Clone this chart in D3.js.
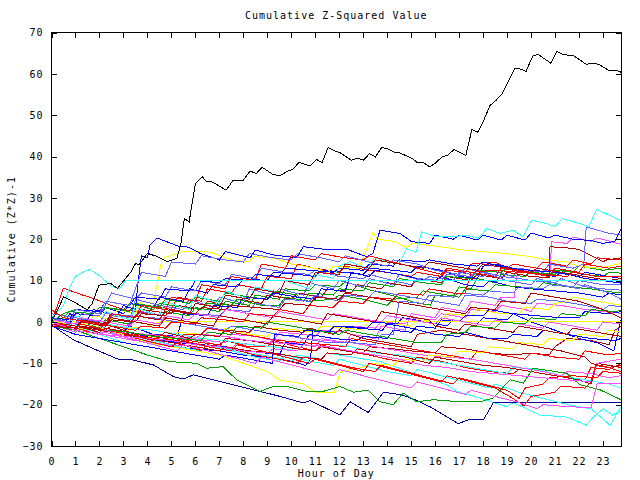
<!DOCTYPE html>
<html><head><meta charset="utf-8">
<script src="https://cdn.jsdelivr.net/npm/d3@7"></script>
<style>
html,body{margin:0;padding:0;background:#fff;}
text{font-family:"DejaVu Sans Mono",monospace;font-size:10px;letter-spacing:1px;fill:#000;}
</style></head><body>
<svg id="c" width="640" height="480"></svg>
<script>
const titleText = "Cumulative Z-Squared Value";
const xLabelText = "Hour of Day";
const yLabelText = "Cumulative (Z*Z)-1";
const xTicks = d3.range(0, 24);
const yTicks = [-30,-20,-10,0,10,20,30,40,50,60,70];

// series: [hour, value]
const black = [[0,0],[0.21,2.4],[0.51,6.1],[0.93,4.9],[1.49,2.9],[1.7,4.5],[1.98,8.9],[2.47,9.3],[2.75,8.1],[3.31,12.1],[3.51,14.2],[3.65,13.8],[4.0,16.6],[4.42,15.8],[4.84,14.6],[5.23,15.4],[5.4,19.0],[5.54,25.0],[5.74,24.2],[6.0,33.5],[6.29,35.1],[6.44,34.1],[6.72,33.8],[7.28,31.9],[7.56,34.1],[7.98,34.1],[8.28,36.5],[8.54,35.9],[8.79,37.4],[9.23,35.7],[9.51,35.3],[9.82,36.4],[10.07,36.9],[10.32,38.6],[10.77,37.7],[11.05,39.3],[11.28,38.5],[11.54,42.2],[11.79,41.4],[12.04,40.9],[12.51,39.1],[12.76,39.6],[13.01,39.1],[13.26,40.7],[13.51,39.9],[13.77,42.2],[14.02,41.9],[14.27,41.1],[14.52,40.9],[15.02,39.6],[15.27,38.5],[15.52,38.5],[15.77,37.5],[16.03,38.5],[16.28,39.9],[16.53,40.3],[16.78,41.7],[17.28,40.3],[17.53,46.5],[17.78,45.9],[18.03,48.8],[18.28,52.3],[18.54,53.6],[18.82,55.4],[19.07,58.5],[19.32,61.2],[19.54,61.2],[19.79,60.6],[20.07,64.3],[20.29,64.7],[20.82,62.6],[21.08,65.4],[21.33,64.7],[21.8,64.3],[22.3,62.3],[22.55,62.6],[22.83,62.3],[23.22,60.9],[23.56,60.9],[23.75,60.4]];
const cyanFlat = [[0,1],[0.25,2.5],[0.5,4],[0.7,7.5],[0.98,10.9],[1.3,12],[1.6,12.7],[2.0,11.2],[2.5,8.6],[2.85,8.1],[3.1,10.1],[23.75,10.1]];
const yellowFlat = [[0,0.5],[0.5,-0.5],[0.75,0.5],[1.5,-1.5],[1.75,-0.5],[2.5,-2.5],[3,-3],[3.25,-1.5],[4,-1],[4.5,0],[23.75,0]];
const navyBottom = [[0,-0.5],[0.08,-1.1],[0.91,-4.3],[1.88,-6.8],[2.86,-9.2],[3.41,-9.2],[4.25,-10.4],[5.08,-13.2],[5.5,-13.8],[5.91,-12.8],[7.03,-14.4],[8.14,-16.0],[9.53,-18.0],[10.5,-19.6],[10.78,-19.0],[12.03,-22.5],[12.45,-19.3],[13.21,-21.9],[13.84,-17.0],[14.6,-17.6],[15.16,-18.8],[15.78,-20.5],[16.96,-24.6],[17.45,-23.5],[18.01,-23.7],[18.42,-19.6],[23.75,-19.6]];
const cyanTop = [[0,0.5],[0.75,-1],[1,1.5],[2,-0.5],[2.25,2.5],[3.25,0.5],[3.5,3.5],[4.5,1.5],[4.75,5],[5.75,3],[6,6.5],[7,4.5],[7.25,7.5],[8.25,5.5],[8.5,8.5],[9.5,7],[9.75,10],[10.75,8],[11,11.5],[11.75,10.5],[12,13.5],[12.45,14.6],[13.2,12.8],[13.45,15.5],[14.5,14],[14.81,17.8],[15.2,16.8],[15.44,21.8],[16.06,20.6],[16.76,20.6],[17.31,21],[17.8,20.2],[18.15,22.6],[18.7,21.4],[19.26,22.2],[19.67,20.6],[20.02,24.6],[20.65,23.8],[21,23],[21.3,25],[22.04,23.8],[22.4,23],[22.74,27.2],[23.15,26.1],[23.75,24.5]];
const blue20 = [[0,0],[0.5,-1],[0.75,2],[1.5,0.5],[1.75,3],[2.75,1.5],[3,4],[3.5,3],[3.6,9],[3.75,16],[4,15.5],[4.1,18.5],[4.4,20.3],[5.3,18.3],[5.7,18.1],[6.2,16.6],[7,15],[7.25,17],[8.28,15.5],[8.5,17.4],[9.25,16.2],[10.22,15.5],[10.5,18.2],[11.5,17.5],[12.31,17.6],[13.14,15.8],[13.4,16.5],[13.7,22.2],[14.53,21.4],[15.02,19.4],[15.78,19],[16,21],[16.75,20],[17,21],[17.75,19.8],[18,21],[18.75,19.8],[19,21],[19.75,19.8],[20,21.5],[20.75,20.3],[21,21],[21.75,20],[22.5,19.7],[23,19],[23.5,19.5],[23.75,22.4]];
const lightblueHi = [[0,1],[1,-1],[1.25,1],[2.25,-1.5],[3,-2.5],[3.25,0],[3.5,5.5],[4.5,4],[5.5,3],[5.75,5.5],[6.75,3.5],[7,6],[8,4.5],[8.25,8],[9.25,6.5],[9.5,8],[10.5,6.5],[10.75,9.5],[11.75,8],[12,10],[13,8.5],[13.25,10.5],[14.25,9],[14.5,11.5],[15.5,10],[15.75,11],[16.75,10],[17,12],[18,11],[18.25,12.5],[19.25,11],[19.5,13],[20.5,12],[20.75,14],[21.75,13],[22.2,14],[22.3,23],[22.6,22.5],[23.2,21.5],[23.75,21]];
const pinkHi = [[0,-0.5],[1,-2.5],[1.25,-1.5],[2.5,-3.5],[3.5,-4.5],[3.75,-3.5],[5,-5.5],[6,-6],[6.25,-4.5],[7.5,-6.5],[7.75,-5],[9,-6],[9.25,-4],[10.5,-5.5],[11,-6],[11.25,-4],[12.25,-5],[12.5,-3],[13.5,-4],[13.75,-1],[14.75,-2],[15,2],[16,1],[16.25,3.5],[17.25,2.5],[17.5,5],[18.5,4],[18.75,6],[19.3,6],[19.45,13],[20,12],[20.8,12.5],[20.85,19.4],[21.5,19],[21.75,20.5],[22.5,19.5],[22.75,20.3],[23.75,18.8]];
const darkredHi = [[0,0],[1,-1],[1.25,1],[2.25,0],[2.5,2],[3.5,1],[3.75,3],[5,2],[5.25,4],[6.25,3],[6.5,5],[7.5,4],[7.75,5.5],[8.75,4.5],[9,6.5],[10,5.5],[10.25,7],[11.25,6],[11.5,8],[12.5,7],[12.75,9],[13.75,8],[14,9.5],[15,8.5],[15.25,10.5],[16.25,9.5],[16.5,11],[17.5,10],[17.75,11.5],[18.75,10.5],[19,12],[20,11],[20.75,10.7],[20.79,18.2],[21.76,17.8],[22.04,17.4],[23.01,14.6],[23.15,15],[23.75,15.5]];
const red15 = [[0,0],[0.25,4],[0.5,8.2],[1.3,6.5],[1.7,5.8],[2.5,4],[3,3],[4,2],[4.25,4],[5,3],[5.25,6],[6.25,5],[6.5,8],[7.5,7],[7.75,9],[8.75,8],[9,11],[10,10.5],[10.25,14],[11,13],[12,12],[12.25,13.5],[13.25,12.5],[14,12],[15,11],[15.25,12],[16.25,11],[16.5,12.5],[17.25,12],[17.5,14],[18.5,14.5],[19,13],[19.25,14],[20.25,13],[20.5,14.5],[21.5,13.5],[21.75,15],[22.5,14],[22.75,15.5],[23.75,15]];
const yellow14 = [[0,0],[0.5,-1],[0.75,0.5],[1.5,-0.5],[1.75,1.5],[2.5,0.5],[2.75,3],[3.5,2],[3.75,5],[4.25,4.5],[4.5,12],[4.6,15],[4.8,15.8],[5.5,17],[6.4,17],[6.7,16.7],[7.5,15],[8.2,14.5],[8.45,15.8],[9.3,15.4],[10,14],[11,13],[11.5,12],[11.75,13.5],[12.8,13],[13.1,17],[13.4,21.5],[13.6,20],[14.3,19.5],[14.8,18],[15.05,19],[16.2,18.2],[17,17.5],[18,17],[19,16.5],[20,15.8],[20.7,15],[21.5,14.5],[22,13.4],[22.9,13],[23.75,14.2]];
const greenA = [[0,1],[1,-1],[1.25,0],[2,-1.5],[2.25,0.5],[3.25,-0.5],[3.5,1.5],[4.5,0.5],[4.75,2.5],[5.75,1.5],[6,3.5],[7,2.5],[7.25,5],[8.25,4],[8.5,6.5],[9.5,5.5],[9.75,8],[10.75,7.5],[11,9],[12,8.5],[12.25,9.7],[13.3,7.7],[14.4,6.1],[15.2,4.6],[15.8,4.1],[16,6.5],[16.75,6],[17,8.5],[17.5,8],[17.75,10.5],[18.5,9.5],[18.75,11.5],[19.75,11],[20,12.5],[20.75,11],[21,12.5],[21.75,12],[22,13.5],[23,12.5],[23.75,13]];
const greenB = [[0,0],[0.5,2],[1,3],[2,2],[2.25,3.5],[3.25,2.5],[3.5,4.5],[4.5,3.5],[4.75,5.5],[5.75,4.5],[6,6],[7,5],[7.25,7],[8.25,6],[9,5.5],[9.25,7.5],[10.25,6.5],[10.5,5],[10.75,7],[11.75,6.5],[12,8],[13,7.5],[13.25,9.5],[14.25,8.5],[14.5,10.5],[15.5,9.5],[16.25,9],[16.5,11],[17.5,10.5],[17.75,12.5],[18.75,12],[19,13],[20,12],[21,11.5],[21.25,12.5],[22.25,11.5],[23,11],[23.25,12],[23.75,11.8]];
const blue9 = [[0,0],[0.75,-0.5],[1,2],[2,1.5],[2.25,3.5],[3,2],[3.25,4.5],[4.25,3.5],[4.5,6],[5.5,5],[5.75,8],[6.5,7],[6.75,9],[7.75,8.5],[8,10.5],[9,10],[9.25,12],[10.25,11.5],[11,11],[11.25,12.5],[12.25,12],[13,11.5],[13.25,13],[14.25,12.5],[15,12],[15.25,13.5],[16.25,12.5],[17,11],[17.75,10.5],[18,13.5],[18.5,14],[19.25,13],[20,12],[21,11],[21.25,12],[22.25,10.5],[23,10],[23.75,9.4]];
const lightblue8 = [[0,0.5],[1,-0.5],[1.25,2],[2,1.5],[2.25,4],[2.5,7],[3.5,5.5],[3.75,7],[4.75,6],[5,8.5],[6,7.5],[6.25,10],[7.25,9],[7.5,11.5],[8.5,10.5],[8.75,13],[9.75,12],[10.75,11.5],[11,12.5],[12,11],[13,10.5],[13.25,11.5],[14.25,10],[15,9],[15.25,10.5],[16.25,10],[16.5,11.5],[17.5,11],[17.75,12.5],[18.75,11],[19.5,10.5],[20,10],[21,9.5],[21.25,10.5],[22.25,8.5],[23,8],[23.75,7.7]];
const lightblueUp = [[0,1],[0.75,0],[1,3],[2,2],[2.25,5],[3.25,4],[3.5,8],[3.75,12],[4.75,11],[5,14.5],[6,14],[6.25,16],[7.25,15],[8,14.5],[8.25,16.5],[9.25,15.5],[10,15],[10.25,16.5],[11.25,15.5],[12,14.5],[12.25,16],[13.25,14.5],[14,13.5],[14.25,15],[15.25,14],[16,12.5],[17,11.5],[17.25,13],[18.25,11.5],[19,10],[20,9],[20.25,10.5],[21.25,9],[22,8],[22.25,9],[23.25,7],[23.75,5.5]];
const redUp = [[0,-0.5],[1,-2],[1.25,0],[2.25,-1],[2.5,2],[3.5,1],[3.75,4],[4.75,3],[5,6],[6,5],[6.25,9],[7.25,8],[7.5,11],[8.5,10],[8.75,14],[9.75,13],[10,16],[11,15],[11.25,16.5],[12.25,15.5],[13,15],[13.25,16],[14.25,14.5],[15.25,13],[16.25,11.5],[16.5,13],[17.5,12],[18.5,11],[18.75,13],[19.75,12],[20.75,11],[21,13],[22,12],[22.25,14],[23.25,13],[23.75,13.5]];
const darkredUp = [[0,0],[1,-1],[2,-2],[2.25,0],[3.25,-1],[3.5,1.5],[4.5,0.5],[4.75,3],[5.75,2],[6,4.5],[7,3.5],[7.25,6.5],[8.25,5.5],[8.5,8],[9.5,7],[9.75,10],[10.75,9],[11,12],[12,11.5],[12.25,14],[13.25,13],[13.5,15],[14.5,14],[15.5,13],[15.75,14.5],[16.75,13.5],[17.75,12.5],[18,14],[19,13],[20,12],[20.25,13],[21.25,12],[22.25,11],[23.25,10],[23.75,10.5]];
const blue6 = [[0,-1],[1,-1.5],[1.25,-0.5],[2.25,-2],[3,-2.5],[3.25,-1],[4.25,-3],[5.25,-3.5],[5.5,2],[6.5,1.5],[6.75,4],[7.75,3.5],[8,6],[9,5.5],[9.25,7],[10.25,6],[11,5.5],[11.25,8],[12.25,7.5],[12.5,12],[13.25,11],[13.5,12.5],[14.5,11.5],[15.25,10.5],[16,10],[16.25,11],[17.25,9],[18,8.5],[18.25,10],[19.25,8.5],[20,8],[21,7.5],[22,7],[23,6],[23.25,7],[23.75,6.5]];
const lightblue4 = [[0,0],[1,-1.5],[1.25,0],[2.25,-0.5],[2.5,1.5],[3.5,1],[3.75,2.5],[4.75,1.5],[5.75,0.5],[6,2],[7,1.5],[7.25,3],[8.25,2.5],[8.5,4.5],[9.5,3.5],[9.75,5.5],[10.75,5],[11,6.5],[12,5],[12.25,6.5],[13.25,6],[13.5,7.5],[14.5,6.5],[15.5,5.5],[16.5,4.5],[17,4],[17.25,6.5],[18.25,6],[19,5],[20,4.5],[20.25,5.5],[21.25,5],[22.25,4],[23,3],[23.25,4],[23.75,3.7]];
const pink2 = [[0,0],[1,-2],[2,-3],[2.25,-2.5],[3.25,-4],[4.25,-5],[5.25,-6],[5.5,-4],[6.5,-4.5],[7.25,-5],[7.5,-3],[8.5,-3.5],[9.25,-4.5],[9.5,-2.5],[10.5,-3],[11,-3.5],[11.25,-2],[12.25,-2.5],[12.5,-1],[13.5,-1.5],[13.75,0],[14.75,-0.5],[15,1],[16,0.5],[16.25,2],[17.25,1],[17.5,3],[18.5,2.5],[18.75,4],[19.75,3],[20,2.5],[20.25,4.5],[21.25,4],[22.25,3],[23,2.5],[23.75,2.1]];
const pinkZero = [[0,0.5],[1,-0.5],[1.25,1],[2.25,0],[3.25,-1],[3.5,0.5],[4.5,-0.5],[4.75,1.5],[5.75,0.5],[6,2],[7,1],[7.25,3],[8.25,2],[9.25,1],[9.5,2.5],[10.5,1.5],[11.5,0.5],[11.75,2],[12.75,1],[13.75,0],[14,1.5],[15,0.5],[16,-0.5],[16.25,1],[17.25,0],[18.25,-1],[18.5,0.5],[19.5,-0.5],[20.5,-1.5],[20.75,0],[21.75,-1],[22.75,-2],[23,0],[23.75,-0.5]];
const yellow4 = [[0,0],[1,-1.5],[2,-2],[3,-3],[4,-3.5],[5,-4],[5.25,-2.5],[6.25,-3],[7,-3.5],[7.25,-1.5],[8.25,-3],[9,-3.5],[9.25,-1.5],[10.25,-2],[11,-2.5],[11.25,-1],[12.25,-1.5],[13,-2],[13.25,0.5],[14.25,-0.5],[15,-1],[15.25,0.5],[16.25,0],[16.5,2],[17.5,1.5],[17.75,3],[18.75,2],[19.5,2],[19.75,3.5],[20.75,3],[21,4.5],[21.5,5],[21.75,6],[22.75,5],[23.75,4]];
const darkredM1 = [[0,0],[1,-1],[2,-2.5],[2.25,-1.5],[3.25,-2.5],[4.25,-3.5],[5.25,-4.5],[6.25,-5.5],[7,-6],[7.25,-4],[8.25,-4.5],[9.25,-5.5],[10.25,-6.5],[11,-7],[11.25,-6],[12.25,-7],[13,-7.5],[13.25,-6],[14.25,-6.5],[15,-7],[16,-7.5],[16.25,-6],[17.25,-6.5],[18.25,-7.5],[19.25,-8],[20,-7.5],[20.75,-8],[21,-6],[21.5,-4],[22.5,-4.5],[23.25,-5.5],[23.5,-2],[23.75,-1.1]];
const darkredZero = [[0,-0.5],[1,-1.5],[1.25,0.5],[2.25,-0.5],[2.5,1],[3.5,0],[4.5,-1],[4.75,1],[5.75,0],[6.75,-1],[7,1.5],[8,0.5],[9,-0.5],[9.25,1.5],[10.25,0.5],[11.25,-0.5],[11.5,2],[12.5,1],[13.5,0],[13.75,2.5],[14.75,1.5],[15.75,0.5],[16,-1],[17,-2],[17.25,-0.5],[18.25,-1.5],[19.25,-2.5],[19.5,-1],[20.5,-2],[21.5,-3],[21.75,-1.5],[22.75,-2.5],[23.75,-3.5]];
const blueDesc = [[0,0],[1,-1.5],[2,-3],[3,-3.5],[3.25,-2.5],[4.25,-4],[5.25,-5],[6.25,-5.5],[7.25,-6],[8.25,-7],[9.5,-8],[9.75,-5],[10.5,-5.5],[10.75,-3],[11.75,-4],[12.75,-4.5],[13,-3.5],[14,-4],[14.25,-2],[15,-2.5],[15.25,-1],[16,-1.5],[16.25,0.5],[17,0],[17.25,1.5],[18,1.5],[18.25,3],[19.25,2],[20,0],[21,-2],[22,-4],[22.75,-5],[23.45,-7],[23.75,0.5]];
const green7 = [[0,0],[0.5,1],[0.75,2.5],[1.75,2],[2,3.5],[3,3],[3.25,4.5],[4.25,3],[4.5,4.5],[5.5,3.5],[6.25,3],[6.5,4.5],[7.5,4],[7.75,5.5],[8.75,4],[9.5,4],[9.75,6],[10.75,5],[11.75,5.5],[12,6.5],[13,5.5],[14,4],[14.25,5.5],[15.25,6],[15.5,7.5],[16.5,6.5],[17,6],[17.25,8],[18.25,7.5],[18.5,9],[19.5,8.5],[20.25,8],[20.5,9.5],[21.5,8.5],[22.5,8],[23,7.5],[23.75,7]];
const red10 = [[0,0],[1,-1.5],[2,-2],[3,-3],[4,-4],[4.25,-3],[5.25,-4],[6.25,-5],[7,-5.5],[7.25,-4.5],[8.25,-6],[9,-6],[9.25,-4.5],[10.25,-6],[11,-7],[11.25,-5.5],[12.25,-7],[13.25,-8],[14,-9],[15,-10],[15.25,-8.5],[16.25,-9.5],[17.25,-11],[18.25,-12],[19.25,-12.5],[19.5,-11.5],[20.5,-12.5],[21.5,-13.5],[22.25,-14],[22.5,-11],[23.25,-11.5],[23.75,-10]];
const red10b = [[0,0],[1,-2],[2,-3],[2.25,-2],[3.25,-3],[4.25,-4],[5.25,-4.5],[5.5,-3],[6.25,-3],[6.5,-1.5],[7.5,-2.5],[8.5,-3.5],[9.5,-4.5],[10.5,-5],[11.5,-5.5],[12.25,-6],[12.5,-4],[13.5,-5],[14.5,-6],[15.5,-7],[16.5,-8],[17.5,-9],[17.75,-7],[18.75,-8],[19.75,-9],[20,-7.5],[21,-8.5],[22,-9],[22.25,-7],[23.25,-8],[23.75,-7.5]];
const red12 = [[0,0],[1,-1.5],[2,-3],[2.25,-2],[3.25,-3.5],[4.25,-5],[5,-6],[5.25,-5],[6.25,-7],[6.5,-5.5],[7.5,-6.5],[8.5,-8],[9.5,-9],[10.25,-10],[10.5,-8.5],[11.5,-9.5],[12.5,-11],[13.5,-12],[13.75,-10.5],[14.75,-12],[15.75,-13.5],[16.75,-15],[17,-13.5],[18,-15],[19,-16.5],[19.5,-18.5],[19.75,-16],[20.5,-15],[20.75,-13.5],[21.75,-13],[22.75,-13.5],[23,-12],[23.75,-12.4]];
const pink15 = [[0,0],[1,-2],[2,-3],[2.25,-2],[3.25,-4],[4.25,-5.5],[5.25,-7],[5.5,-5.5],[6.5,-7],[7.5,-8.5],[8.5,-10],[8.75,-8.5],[9.75,-10],[10.75,-11.5],[11.75,-13],[12,-11.5],[13,-13],[14,-14.5],[15,-16],[15.25,-14.5],[16.25,-16],[17.25,-17.5],[17.5,-16.5],[18.5,-18],[19.5,-19.5],[20.25,-21],[20.5,-20],[21.5,-20.5],[22.5,-20.7],[22.75,-15],[23.75,-14.8]];
const darkred11 = [[0,0],[1,-1],[2,-2],[3,-3],[4,-4],[5,-5],[6,-6],[7,-7],[7.25,-6],[8.25,-7],[9.25,-7.5],[10.25,-8.5],[11.25,-9],[11.5,-7.5],[12.5,-8],[12.75,-6.5],[13.75,-7.5],[14.75,-8.5],[15.75,-10],[16,-8.5],[17,-9.5],[18,-10.5],[19,-11],[20,-12],[21,-13],[22,-14],[22.5,-15],[22.75,-10],[23.75,-11]];
const red17 = [[0,0],[1,-1.5],[1.25,-0.5],[2.25,-2],[3.25,-3],[4.25,-4.5],[4.5,-3],[5.5,-4.5],[6.5,-6],[7.5,-7],[7.75,-5.5],[8.75,-7],[9.75,-8.5],[10.75,-10],[11,-9],[12,-10.5],[13,-12],[13.25,-10],[14.25,-11.5],[15.25,-13],[16.25,-14.5],[16.5,-13],[17.5,-14.5],[18.5,-16],[19.25,-18.5],[19.7,-20.3],[20,-18],[21,-17],[21.25,-15.5],[22.25,-16],[22.5,-14.5],[22.7,-10.5],[23.2,-11],[23.75,-12]];
const pinkB = [[0,0],[1,-1],[2,-2],[3,-2.5],[4,-3],[5,-3.5],[6,-4],[6.25,-3],[7.25,-3.5],[8.25,-4.5],[9.25,-5],[10.25,-5.5],[10.5,-4],[11.5,-4.5],[12.5,-5],[13.5,-6],[14.5,-7],[15.5,-8],[16.5,-8.5],[17.5,-9],[18.5,-10],[19.5,-11],[20.5,-12],[21.25,-13],[21.5,-12],[22.5,-12.5],[23.25,-13.5],[23.75,-13]];
const pinkC = [[0,0],[1,-2],[2,-3],[3,-3.5],[4,-4],[5,-4.5],[6,-5.5],[7,-6],[8,-7],[9,-7.5],[9.25,-6.5],[10.25,-7],[10.5,-5.5],[11.5,-6],[12.5,-7],[13.5,-8],[14.5,-9],[15.5,-10.5],[16.5,-11],[17.5,-12],[18.5,-12.5],[19.5,-13],[20.5,-13.5],[21.5,-14],[22.5,-14.5],[22.75,-10],[23.75,-9]];
const cyanC = [[0,0],[1,-1],[1.25,0],[2.25,-0.5],[3.25,-1.5],[4.25,-2],[5.25,-3],[6.25,-4],[7.25,-4.5],[8.25,-5.5],[9.25,-6],[10.25,-7],[10.5,-5],[11.5,-5.5],[12.5,-6],[13.5,-7.5],[14.5,-8],[15.5,-9],[16.5,-10],[17.5,-11],[18.5,-12],[19,-12.5],[19.25,-11],[20.25,-11.5],[21.25,-13],[22.25,-14],[23.25,-15],[23.75,-16]];
const yellowLow = [[0,0],[1,-1],[2,-2],[3,-3],[4,-5],[5,-6],[6,-7],[7,-8],[8,-10],[9,-12],[9.5,-14],[10.5,-15],[11,-17],[11.8,-17],[12.05,-12],[13,-11],[13.25,-10],[14.25,-10.5],[14.5,-9],[15.5,-9.5],[15.75,-8],[16.75,-8.5],[17,-7],[18,-7.5],[18.25,-6],[19.25,-6.5],[19.5,-5],[20.5,-5.5],[20.75,-4],[21.75,-4.5],[22,-3],[23,-3.5],[23.25,-2],[23.75,-2.5]];
const blueV1 = [[0,0],[1,-1],[2,-2],[3,-3],[4,-5],[5,-6],[6,-6.5],[7,-7],[8,-8],[9,-8.5],[10,-9.5],[10.6,-10.5],[10.8,-9],[10.9,-2],[11.9,-2.5],[12.15,-1],[13.15,-1.5],[13.4,0],[14.4,-0.5],[14.65,1],[15.65,0],[16.5,-1],[16.75,0.5],[17.75,-0.5],[18,1],[19,0.5],[19.25,2],[20.25,1.5],[21.25,1],[22,1],[22.25,2.5],[23.25,2],[23.75,2.5]];
const greenLow = [[0,0],[0.5,-1],[1,-2],[2,-4],[3,-6],[4,-8],[4.94,-9.6],[6.05,-10],[6.47,-11.2],[7.16,-10.8],[7.72,-14],[8.69,-16.8],[9.25,-15.6],[9.81,-15.6],[10.64,-16.8],[11.33,-16.8],[12.03,-15.6],[12.6,-17],[13.2,-16.5],[13.7,-19.3],[14.25,-20],[14.67,-17.2],[15.23,-19.3],[15.92,-18.8],[17.04,-19.3],[17.87,-19.3],[18.42,-18.4],[19.12,-14],[19.67,-14.8],[20.09,-11.2],[21.48,-12.4],[22.04,-15.2],[22.87,-16.4],[23.75,-18.8]];
const cyan1 = [[0,0],[1,-1.5],[2,-2.5],[3,-3],[4,-4.5],[5,-6],[6,-7],[6.25,-5.5],[7.25,-6.5],[8.25,-7.5],[9.25,-8.5],[10,-9.5],[10.25,-8],[11.25,-9],[11.5,-7.5],[12.5,-8.5],[13.72,-9.6],[15.1,-12.4],[16.48,-15.2],[16.9,-16.8],[17.87,-18.4],[18.98,-20.5],[19.25,-19.5],[20.37,-22.5],[21.5,-23],[22.3,-25],[22.6,-23],[23.0,-21],[23.4,-22.5],[23.75,-21.5]];
const cyan2 = [[0,0],[1,-2],[2,-3],[3,-5],[4,-6],[4.25,-4.5],[5.25,-6],[6.25,-7],[6.5,-5.5],[7.5,-7],[8.5,-8.5],[9.5,-9.5],[9.75,-8],[10.75,-9.5],[11.75,-10.5],[12,-9],[13,-10.5],[14,-12],[15,-13],[15.25,-11.5],[16.25,-13],[17.25,-14.5],[18.25,-16],[18.5,-15],[19.5,-17],[20.5,-18.5],[21.5,-20],[22.5,-21],[22.8,-22.5],[23.3,-25],[23.75,-20.5]];
const darkredMid = [[0,0],[1,-2],[1.25,-1],[2.25,-2],[2.5,-1],[3.5,-3],[4.5,-3.5],[4.75,-2.5],[5.75,-4],[6,-3],[7,-3.5],[7.25,-2],[8.25,-2.5],[8.5,-1],[9.5,-2],[10.5,-2.5],[10.75,-1.5],[11.75,-3],[12,-2],[13,-4],[14,-5],[15,-6],[15.25,-3],[16.25,-2],[17.25,-3],[18.25,-4],[19.25,-5],[20.25,-6],[21.25,-7],[22.25,-8.5],[22.5,-10],[23.25,-11],[23.75,-10.5]];
const redMid = [[0,3],[0.5,1],[1.5,0],[2.5,-1],[3.5,-2],[3.75,-1],[4.75,-1.5],[5,0],[6,-0.5],[6.25,1],[7.25,0.5],[8,0],[8.25,2],[9.25,1.5],[9.5,3],[10.5,2],[10.75,4],[11.75,3.5],[12,5],[13,4.5],[13.25,6],[14.25,5.5],[14.5,7],[15.5,6.5],[15.75,8],[16.75,7],[17.25,7],[17.5,12],[18.5,12.5],[19.5,12],[20.5,11.5],[21.5,11],[21.75,12],[22.75,11],[23.75,11]];
const blueMid2 = [[0,1],[0.75,0.5],[1,3],[2,2.5],[2.25,5],[3.25,4],[3.5,6],[4.5,5.5],[4.75,8],[5.75,7.5],[6,10],[7,9.5],[7.25,10.5],[8.25,10],[8.5,11.5],[9.5,11],[9.75,13],[10.75,12.5],[11.75,12],[12,13],[13,12.5],[13.25,14],[14.25,13.5],[14.5,15],[15.5,14.5],[15.75,15],[16.75,14],[17.75,13.5],[18,14.5],[19,13],[20,12.5],[21,12],[22,11],[22.25,12],[23.25,11],[23.75,10.5]];
const greenMid = [[0,-1],[1,-2],[2,-3],[2.25,-2],[3.25,-2.5],[4.25,-3.5],[5.25,-4],[6.25,-4.5],[6.5,-2.5],[7.5,-3],[7.75,-1],[8.75,-1.5],[9,0],[10,-1],[11,-2],[12,-3],[12.25,-2],[13.25,-3],[14.25,-4],[15.25,-5],[16.25,-5],[16.5,-3],[17.25,-2.5],[17.5,-1],[18.5,-1.5],[18.75,0],[19.75,-0.5],[20,1],[21,0.5],[21.25,2],[22.25,1.5],[22.5,3],[23.5,2.5],[23.75,2.8]];
const lightblueMid = [[0,2],[1,1],[2,0],[2.25,2],[3.25,1.5],[4.25,1],[5.25,0],[6.25,-1],[7.25,-2],[7.5,-1],[8.5,-2],[9.5,-3],[10.5,-4],[11.5,-5],[12.5,-5],[13.5,-5.5],[13.75,-3],[14.25,-3],[14.5,5],[15.5,4.5],[15.75,6.5],[16.75,6],[17,7],[18,6.5],[18.25,7.5],[19.25,7],[19.5,8.5],[20.5,8],[20.75,9],[21.75,8.5],[22,10],[23,9],[23.75,9]];
const darkredMid2 = [[0,-1],[1,-1.5],[1.25,0],[2.25,-1],[2.5,0.5],[3.5,0],[3.75,2],[4.75,1.5],[5,3],[6,2],[6.25,3.5],[7.25,3],[7.5,4],[8.5,3.5],[9.5,3],[9.75,4.5],[10.75,4],[11,6],[12,5.5],[12.25,7],[13.25,6],[14.25,5],[15.25,4],[16.25,3],[17.25,2],[17.5,3.5],[18.5,3],[18.75,5],[19.75,4.5],[20,7],[21,6],[22,5],[23,3],[23.75,1]];
const blueV2 = [[0,-1],[1,-3],[2,-4],[3,-5],[4,-6],[5,-7],[6,-8],[7,-9],[7.25,-8],[8.25,-9],[9.2,-10],[9.3,-3],[10.3,-3.5],[10.55,-2],[11.55,-2.5],[11.8,-1],[12.8,-1.5],[13.8,-2],[14,-0.5],[15,-1.5],[16,-3],[17,-3.5],[17.25,-2.5],[18.25,-4],[19,-4],[19.25,-3],[20.25,-3.5],[20.5,-2],[21.5,-3],[22.5,-4],[23.5,-4.5],[23.75,-4]];

const C = {black:"#000000", red:"#ff0000", darkred:"#b40000", green:"#00a000", blue:"#0000ff",
  lightblue:"#6464ff", navy:"#000099", pink:"#ff50ff", cyan:"#33ffff", yellow:"#ffff00"};

const seriesList = [
  [red15,"red"],[greenA,"green"],[blue9,"blue"],[pinkHi,"pink"],[cyan1,"cyan"],[yellow14,"yellow"],
  [darkredHi,"darkred"],[lightblueHi,"lightblue"],[navyBottom,"navy"],
  [red10,"red"],[greenB,"green"],[blue6,"blue"],[pink2,"pink"],[cyanC,"cyan"],[yellow4,"yellow"],
  [darkredM1,"darkred"],[lightblue8,"lightblue"],[blueDesc,"blue"],
  [red10b,"red"],[green7,"green"],[blueV1,"blue"],[pinkB,"pink"],[cyan2,"cyan"],[yellowLow,"yellow"],
  [darkred11,"darkred"],[lightblue4,"lightblue"],[blue20,"blue"],
  [red12,"red"],[greenLow,"green"],[blueMid2,"blue"],[pinkC,"pink"],[cyanTop,"cyan"],[yellowFlat,"yellow"],
  [darkredMid,"darkred"],[lightblueMid,"lightblue"],[blueV2,"blue"],
  [redUp,"red"],[lightblueUp,"lightblue"],[darkredUp,"darkred"],[pinkZero,"pink"],[darkredZero,"darkred"],
  [red17,"red"],[greenMid,"green"],[pink15,"pink"],[redMid,"red"],[darkredMid2,"darkred"],
  [cyanFlat,"cyan"],[black,"black"]
];

const L = 51.5, R = 621, T = 32.5, B = 446;
const x = d3.scaleLinear().domain([0, 23.75]).range([L, R]);
const y = d3.scaleLinear().domain([-30, 70]).range([B, T]);
const svg = d3.select("#c");

svg.append("defs").append("clipPath").attr("id","clip")
  .append("rect").attr("x",L).attr("y",T).attr("width",R-L).attr("height",B-T);

const line = d3.line().x(d=>x(d[0])).y(d=>y(d[1]));
const g = svg.append("g").attr("clip-path","url(#clip)");
seriesList.forEach(([data,col])=>{
  g.append("path").attr("d", line(data)).attr("fill","none")
    .attr("stroke", C[col]).attr("stroke-width",1).attr("shape-rendering","crispEdges");
});

svg.append("rect").attr("x",L).attr("y",T).attr("width",R-L).attr("height",B-T)
  .attr("fill","none").attr("stroke","#000").attr("stroke-width",1).attr("shape-rendering","crispEdges");

const tk = 5;
const axB = d3.axisBottom(x).tickValues(xTicks).tickSize(-tk).tickPadding(tk+7).tickFormat(d3.format("d"));
const axT = d3.axisTop(x).tickValues(xTicks).tickSize(-tk).tickFormat("");
const axL = d3.axisLeft(y).tickValues(yTicks).tickSize(-tk).tickPadding(tk+3).tickFormat(d3.format("d"));
const axR = d3.axisRight(y).tickValues(yTicks).tickSize(-tk).tickFormat("");
function styleAx(sel){
  sel.select(".domain").remove();
  sel.selectAll("line").attr("stroke","#000").attr("shape-rendering","crispEdges");
  sel.selectAll("text").attr("fill","#000");
  sel.attr("font-family",null).attr("font-size",null);
}
svg.append("g").attr("transform",`translate(0,${B})`).call(axB).call(styleAx);
svg.append("g").attr("transform",`translate(0,${T})`).call(axT).call(styleAx);
svg.append("g").attr("transform",`translate(${L},0)`).call(axL).call(styleAx);
svg.append("g").attr("transform",`translate(${R},0)`).call(axR).call(styleAx);

svg.append("text").attr("x",(L+R)/2).attr("y",19).attr("text-anchor","middle").text(titleText);
svg.append("text").attr("x",(L+R)/2).attr("y",477).attr("text-anchor","middle").text(xLabelText);
svg.append("text").attr("transform",`translate(15,${(T+B)/2}) rotate(-90)`).attr("text-anchor","middle").text(yLabelText);
</script></body></html>
